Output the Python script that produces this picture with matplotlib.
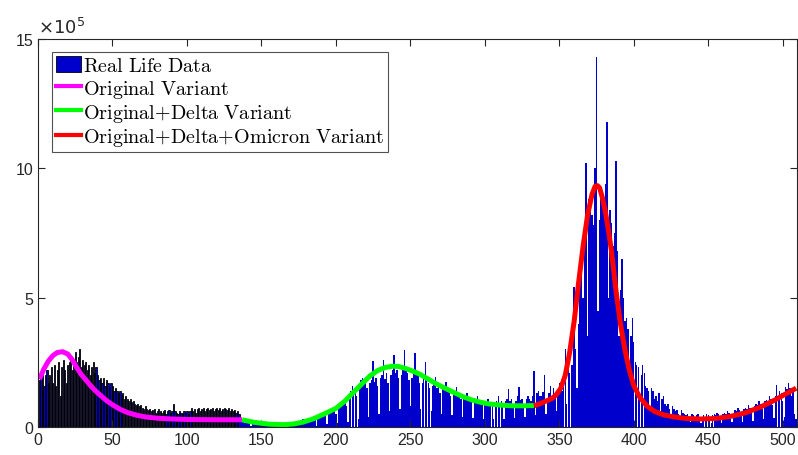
import numpy as np
import matplotlib.pyplot as plt
from matplotlib.patches import Patch
from matplotlib.lines import Line2D

# daily new cases (x 1e5)
# first wave (drawn with black bar edges)
wave1_cases = [
    1.8, 1.9, 2.1, 1.6, 2.0, 2.2, 1.7, 2.0, 2.3, 1.7,
    2.4, 1.6, 2.2, 2.5, 1.2, 2.3, 2.6, 2.2, 1.7, 2.4,
    2.5, 2.7, 2.2, 2.6, 2.9, 2.5, 2.7, 3.0, 2.3, 2.6,
    2.4, 2.5, 2.2, 2.4, 2.0, 2.3, 2.5, 2.1, 2.3, 2.0,
    1.8, 1.9, 1.7, 1.9, 1.6, 1.8, 1.7, 1.5, 1.7, 1.6,
    1.4, 1.5, 1.4, 1.3, 1.4, 1.2, 1.3, 1.1, 1.2, 1.1,
    1.0, 1.1, 0.95, 1.0, 0.9, 0.85, 0.9, 0.8, 0.85, 0.75,
    0.7, 0.8, 0.7, 0.65, 0.7, 0.6, 0.65, 0.7, 0.55, 0.6,
    0.7, 0.6, 0.55, 0.6, 0.65, 0.5, 0.6, 0.65, 0.55, 0.6,
    0.9, 0.6, 0.55, 0.5, 0.6, 0.55, 0.5, 0.6, 0.55, 0.6,
    0.5, 0.6, 0.75, 0.6, 0.7, 0.55, 0.7, 0.75, 0.6, 0.7,
    0.75, 0.6, 0.7, 0.75, 0.65, 0.7, 0.75, 0.6, 0.7, 0.75,
    0.65, 0.75, 0.6, 0.7, 0.75, 0.7, 0.65, 0.75, 0.6, 0.7,
    0.6, 0.65, 0.55, 0.6, 0.5,
]

# delta + omicron period
later_cases = [
    0.3, 0.25, 0.2, 0.15, 0.2,
    0.25, 0.2, 0.05, 0.15, 0.2, 0.2, 0.15, 0.2, 0.1, 0.05,
    0.15, 0.15, 0.1, 0.15, 0.1, 0.05, 0.1, 0.1, 0.15, 0.1,
    0.1, 0.05, 0.1, 0.1, 0.15, 0.1, 0.1, 0.05, 0.15, 0.15,
    0.2, 0.15, 0.2, 0.25, 0.1, 0.2, 0.25, 0.3, 0.3, 0.2,
    0.35, 0.2, 0.3, 0.35, 0.4, 0.3, 0.05,
    0.4, 0.45, 0.5, 0.4, 0.55, 0.45, 0.1,
    0.55, 0.6, 0.7, 0.6, 0.65, 0.5, 0.15,
    0.8, 0.9, 1.0, 0.85, 0.95, 0.8, 0.2,
    1.2, 1.4, 1.6, 1.3, 1.5, 1.2, 0.3,
    1.6, 1.8, 1.9, 1.7, 1.85, 1.5, 0.4,
    1.7, 1.8, 2.55, 1.75, 1.9, 1.6, 0.5,
    1.9, 2.0, 2.6, 1.85, 2.1, 1.7, 0.6,
    2.0, 2.2, 2.8, 2.1, 2.2, 1.9, 0.7,
    2.0, 2.3, 2.99, 2.2, 2.1, 1.8, 0.8,
    1.9, 2.1, 2.86, 2.0, 2.0, 1.7, 0.7,
    1.7, 1.9, 2.5, 1.8, 1.7, 1.5, 0.6,
    1.6, 1.7, 1.95, 1.5, 1.6, 1.3, 0.5,
    1.5, 1.5, 1.75, 1.4, 1.4, 1.2, 0.45,
    1.3, 1.4, 1.55, 1.2, 1.25, 1.1, 0.4,
    1.1, 1.2, 1.3, 1.05, 1.1, 0.95, 0.35,
    1.0, 1.05, 1.2, 0.95, 0.95, 0.85, 0.3,
    0.9, 1.0, 1.1, 0.9, 0.95, 0.8, 0.3,
    0.9, 1.0, 1.2, 0.9, 1.0, 0.8, 0.3,
    1.0, 1.1, 1.45, 1.0, 1.1, 0.9, 0.35,
    1.0, 1.2, 1.55, 1.05, 1.1, 0.9, 0.4,
    1.1, 1.2, 1.1, 1.0, 1.2, 2.15, 0.45,
    1.3, 1.4, 1.2, 1.2, 1.35, 2.0, 0.5,
    1.0, 1.3, 1.6, 1.1, 1.5, 1.2, 0.6,
    1.4, 1.7, 1.6, 1.4, 2.0, 3.0, 0.9,
    2.3, 2.1, 2.4, 2.4, 5.4, 3.0, 1.5,
    4.0, 5.8, 6.6, 5.0, 7.1, 10.2, 3.5,
    8.8, 8.6, 8.2, 7.8, 10.0, 14.3, 4.5,
    8.0, 9.0, 9.1, 8.8, 9.4, 11.8, 5.0,
    8.4, 7.9, 7.0, 7.5, 10.3, 6.8, 3.5,
    5.3, 6.5, 5.0, 4.1, 4.2, 3.8, 2.0,
    3.5, 4.2, 3.3, 2.5, 2.4, 2.3, 1.2,
    2.0, 2.4, 2.1, 1.6, 1.5, 1.4, 0.8,
    1.5, 1.4, 1.1, 1.2, 1.0, 1.3, 0.6,
    1.1, 1.2, 0.9, 0.8, 0.9, 0.7, 0.4,
    0.8, 0.7, 0.6, 0.65, 0.5, 0.3, 0.65,
    0.55, 0.5, 0.45, 0.5, 0.4, 0.2, 0.5,
    0.45, 0.4, 0.45, 0.5, 0.35, 0.15, 0.4,
    0.45, 0.4, 0.5, 0.45, 0.35, 0.15, 0.45,
    0.5, 0.45, 0.55, 0.5, 0.4, 0.15, 0.5,
    0.55, 0.5, 0.6, 0.55, 0.45, 0.2, 0.55,
    0.65, 0.6, 0.75, 0.65, 0.5, 0.2, 0.7,
    0.75, 0.7, 0.85, 0.75, 0.6, 0.25, 0.8,
    0.9, 0.85, 1.0, 0.9, 0.7, 0.3, 1.0,
    1.05, 1.0, 1.2, 1.1, 0.85, 0.35, 1.2,
    1.62, 1.2, 1.4, 1.3, 1.0, 0.4, 1.53,
    1.45, 1.7, 1.5, 1.2, 1.4, 0.5, 0.3,
]

# model fits (x 1e5)
orig_days = [1, 4, 7, 10, 13, 16.5, 20, 23, 26, 29, 32, 35, 38, 41, 44, 47, 50, 55, 60, 66, 72, 80, 90, 100, 120, 137]
orig_vals = [1.85, 2.25, 2.55, 2.76, 2.88, 2.91, 2.82, 2.6, 2.3, 2.03, 1.83, 1.62, 1.43, 1.27, 1.12, 0.98, 0.86,
             0.69, 0.56, 0.46, 0.39, 0.34, 0.31, 0.29, 0.28, 0.28]

delta_days = [137, 145, 155, 165, 172, 178, 185, 192, 200, 206, 212, 218, 223, 228, 233, 238, 242, 247, 252, 256,
              262, 268, 274, 279, 285, 291, 297, 303, 310, 318, 326, 333]
delta_vals = [0.28, 0.18, 0.11, 0.09, 0.12, 0.19, 0.32, 0.5, 0.72, 1.0, 1.35, 1.7, 1.98, 2.18, 2.3, 2.35, 2.34, 2.26,
              2.15, 2.05, 1.85, 1.65, 1.48, 1.34, 1.18, 1.05, 0.96, 0.89, 0.85, 0.82, 0.82, 0.83]

omicron_days = [333, 337, 341, 345, 348, 351, 354, 357, 360, 363, 366, 369, 372, 374, 375.6, 377, 379, 381, 383, 385,
                388, 391, 394, 397, 400, 404, 409, 414, 420, 427, 435, 445, 455, 465, 475, 485, 495, 502, 509]
omicron_vals = [0.82, 0.9, 1.0, 1.1, 1.25, 1.5, 2.0, 2.9, 4.1, 5.6, 7.0, 8.2, 9.0, 9.3, 9.33, 9.25, 8.85, 8.3, 7.6,
                6.8, 5.3, 4.0, 3.0, 2.2, 1.6, 1.15, 0.8, 0.6, 0.47, 0.39, 0.33, 0.31, 0.33, 0.41, 0.55, 0.77, 1.05,
                1.28, 1.5]


plt.rcParams['mathtext.fontset'] = 'cm'
plt.rcParams['font.family'] = ['Liberation Sans', 'DejaVu Sans']

fig = plt.figure(figsize=(7.98, 4.56), dpi=100)
ax = fig.add_axes([0.0476, 0.0614, 0.951, 0.851])

bar_color = '#0000CC'
n1 = len(wave1_cases)
days1 = np.arange(1, n1 + 1)
days2 = np.arange(n1 + 1, n1 + len(later_cases) + 1)

ax.bar(days1, wave1_cases, width=0.8, color=bar_color, edgecolor='black', linewidth=0.6)
ax.bar(days2, later_cases, width=0.95, color=bar_color, edgecolor='none')

lw = 3.6
ax.plot(orig_days, orig_vals, color='#FF00FF', lw=lw, solid_capstyle='butt')
ax.plot(delta_days, delta_vals, color='#00FF00', lw=lw, solid_capstyle='butt')
ax.plot(omicron_days, omicron_vals, color='#FF0000', lw=lw, solid_capstyle='butt')

ax.set_xlim(0, 509.5)
ax.set_ylim(0, 15)
ax.set_xticks(np.arange(0, 501, 50))
ax.set_yticks([0, 5, 10, 15])

axis_col = '#262626'
for s in ax.spines.values():
    s.set_color(axis_col)
    s.set_linewidth(0.8)
ax.tick_params(direction='in', top=True, right=True, length=5, width=0.8,
               colors=axis_col, labelsize=11.5, labelcolor=axis_col)

ax.text(0.0, 1.006, r'$\times10^5$', transform=ax.transAxes, ha='left', va='bottom',
        fontsize=13, color=axis_col, family='DejaVu Sans', math_fontfamily='dejavusans')

handles = [
    Patch(facecolor=bar_color, edgecolor='black', linewidth=0.6),
    Line2D([], [], color='#FF00FF', lw=3),
    Line2D([], [], color='#00FF00', lw=3),
    Line2D([], [], color='#FF0000', lw=3),
]
labels = [
    r'$\mathrm{Real\ Life\ Data}$',
    r'$\mathrm{Original\ Variant}$',
    r'$\mathrm{Original{+}Delta\ Variant}$',
    r'$\mathrm{Original{+}Delta{+}Omicron\ Variant}$',
]
leg = ax.legend(handles, labels, loc='upper left', bbox_to_anchor=(0.018, 0.967), fontsize=14.5,
                frameon=True, fancybox=False, edgecolor=axis_col, handlelength=1.25, handleheight=0.9,
                handletextpad=0.1, borderpad=0.2, labelspacing=0.12, borderaxespad=0)
leg.get_frame().set_linewidth(0.8)

fig.savefig('out.png', dpi=100)
